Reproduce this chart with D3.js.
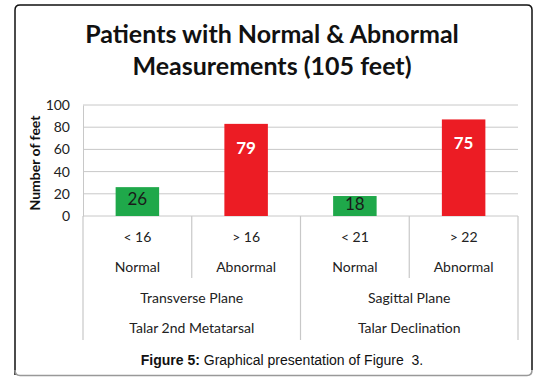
<!DOCTYPE html>
<html>
<head>
<meta charset="utf-8">
<script src="https://cdn.jsdelivr.net/npm/d3@7"></script>
<style>
  html, body { margin: 0; padding: 0; background: #fff; }
  svg { display: block; }
</style>
</head>
<body>
<svg id="chart" width="553" height="383"></svg>
<script>
const titleLines = ["Patients with Normal & Abnormal", "Measurements (105 feet)"];
const thresholds = ["< 16", "> 16", "< 21", "> 22"];
const statuses = ["Normal", "Abnormal", "Normal", "Abnormal"];
const planes = ["Transverse Plane", "Sagittal Plane"];
const measures = ["Talar 2nd Metatarsal", "Talar Declination"];
const barHeights = [26, 83, 18, 87];
const barLabels = ["26", "79", "18", "75"];
const yTicks = [0, 20, 40, 60, 80, 100];
const yTitle = "Number of feet";
const captionBold = "Figure 5:";
const captionRest = " Graphical presentation of Figure  3.";

(function () {
const GREEN = "#1fa84a", RED = "#ec1c24";
const svg = d3.select("#chart");
const font = "Lato, 'Open Sans', sans-serif";

// frame
svg.append("path")
  .attr("d", "M15,375 L15,10 Q15,5 20,5 L527,5 Q532,5 532,10 L532,370")
  .attr("fill", "none").attr("stroke", "#111").attr("stroke-width", 1.5);
svg.append("path")
  .attr("d", "M15,370 Q15,375.5 20,375.5 L527,375.5 Q532,375.5 532,370")
  .attr("fill", "none").attr("stroke", "#999").attr("stroke-width", 1.5);

// title
svg.append("g").selectAll("text").data(titleLines).join("text")
  .attr("x", 272).attr("y", (d, i) => 43 + i * 32)
  .attr("text-anchor", "middle")
  .attr("font-family", font).attr("font-weight", 700)
  .attr("font-size", 25).attr("fill", "#111")
  .text(d => d);

const pLeft = 83, pRight = 518, pTop = 105, pBottom = 216;
const x = d3.scaleBand().domain(d3.range(4)).range([pLeft, pRight]).paddingInner(0).paddingOuter(0);
const y = d3.scaleLinear().domain([0, 100]).range([pBottom, pTop]);

// gridlines
svg.append("g").selectAll("line").data(yTicks).join("line")
  .attr("x1", pLeft).attr("x2", pRight)
  .attr("y1", d => y(d)).attr("y2", d => y(d))
  .attr("stroke", "#c8c8c8").attr("stroke-width", 1);

// y axis
const yAxis = svg.append("g").attr("transform", `translate(${pLeft},0)`)
  .call(d3.axisLeft(y).tickValues(yTicks).tickSize(0).tickPadding(13));
yAxis.select(".domain").attr("stroke", "#c8c8c8");
yAxis.selectAll("text").attr("font-family", font).attr("font-size", 14).attr("fill", "#222");

svg.append("text")
  .attr("transform", "translate(40,163) rotate(-90)")
  .attr("text-anchor", "middle")
  .attr("font-family", font).attr("font-weight", 700).attr("font-size", 14).attr("fill", "#111")
  .text(yTitle);

// bars
const bw = x.bandwidth() * 0.4;
svg.append("g").selectAll("rect").data(barHeights).join("rect")
  .attr("x", (d, i) => x(i) + (x.bandwidth() - bw) / 2)
  .attr("width", bw)
  .attr("y", d => y(d))
  .attr("height", d => y(0) - y(d))
  .attr("fill", (d, i) => i % 2 === 0 ? GREEN : RED);

svg.append("g").selectAll("text").data(barHeights).join("text")
  .attr("x", (d, i) => x(i) + x.bandwidth() / 2)
  .attr("y", d => { const h = y(0) - y(d); return y(d) + Math.min(24, h * 0.42) + 6; })
  .attr("text-anchor", "middle")
  .attr("font-family", font).attr("font-size", 17)
  .attr("font-weight", (d, i) => i % 2 === 0 ? 400 : 700)
  .attr("fill", (d, i) => i % 2 === 0 ? "#1a1a1a" : "#fff")
  .text((d, i) => barLabels[i]);

// category axis lines
const ax = svg.append("g").attr("stroke", "#c8c8c8").attr("stroke-width", 1.2);
[pLeft, x(2), pRight].forEach(xx => ax.append("line").attr("x1", xx).attr("x2", xx).attr("y1", pBottom).attr("y2", 340));
[x(1), x(3)].forEach(xx => ax.append("line").attr("x1", xx).attr("x2", xx).attr("y1", pBottom).attr("y2", 278));

const catText = (data, yy, centerFn) => svg.append("g").selectAll("text").data(data).join("text")
  .attr("x", (d, i) => centerFn(i)).attr("y", yy)
  .attr("text-anchor", "middle")
  .attr("font-family", font).attr("font-size", 14).attr("fill", "#222")
  .text(d => d);

catText(thresholds, 242, i => x(i) + x.bandwidth() / 2);
catText(statuses, 272, i => x(i) + x.bandwidth() / 2);
catText(planes, 303, i => x(i * 2) + x.bandwidth());
catText(measures, 333, i => x(i * 2) + x.bandwidth());

// caption
const cap = svg.append("text").attr("x", 282).attr("y", 365)
  .attr("text-anchor", "middle")
  .attr("font-family", "'Liberation Sans', Arial, sans-serif").attr("font-size", 14).attr("fill", "#111");
cap.append("tspan").attr("font-weight", 700).text(captionBold);
cap.append("tspan").attr("xml:space", "preserve").text(captionRest);
})();
</script>
</body>
</html>
